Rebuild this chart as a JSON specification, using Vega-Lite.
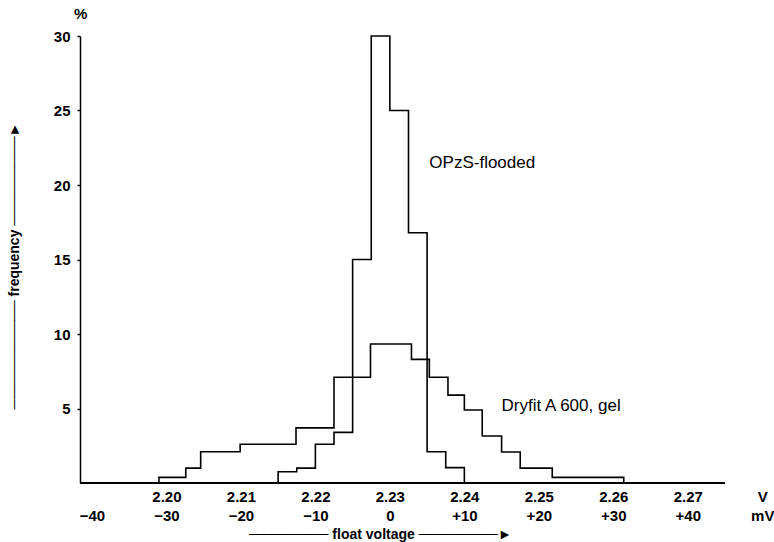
{
  "$schema": "https://vega.github.io/schema/vega-lite/v6.json",
  "width": 689,
  "height": 447,
  "autosize": {"type": "none"},
  "padding": {"left": 80, "top": 36, "right": 5, "bottom": 59},
  "background": "white",
  "config": {"view": {"stroke": null}, "font": "Liberation Sans"},
  "title": {"text": "%", "anchor": "start", "frame": "group", "fontSize": 15, "fontWeight": "bold", "color": "black", "dx": -6, "offset": 7},
  "datasets": {
    "hist": [
      {"series": "OPzS-flooded", "n": 0, "mV": -15, "pct": 0},
      {"series": "OPzS-flooded", "n": 1, "mV": -15, "pct": 0.76},
      {"series": "OPzS-flooded", "n": 2, "mV": -12.5, "pct": 1.0},
      {"series": "OPzS-flooded", "n": 3, "mV": -10, "pct": 2.6},
      {"series": "OPzS-flooded", "n": 4, "mV": -7.5, "pct": 3.4},
      {"series": "OPzS-flooded", "n": 5, "mV": -5, "pct": 15.0},
      {"series": "OPzS-flooded", "n": 6, "mV": -2.5, "pct": 30},
      {"series": "OPzS-flooded", "n": 7, "mV": 0, "pct": 25},
      {"series": "OPzS-flooded", "n": 8, "mV": 2.5, "pct": 16.8},
      {"series": "OPzS-flooded", "n": 9, "mV": 5, "pct": 2.1},
      {"series": "OPzS-flooded", "n": 10, "mV": 7.5, "pct": 1.03},
      {"series": "OPzS-flooded", "n": 11, "mV": 10, "pct": 0},
      {"series": "Dryfit A 600, gel", "n": 0, "mV": -31, "pct": 0},
      {"series": "Dryfit A 600, gel", "n": 1, "mV": -31, "pct": 0.38},
      {"series": "Dryfit A 600, gel", "n": 2, "mV": -27.4, "pct": 1.0},
      {"series": "Dryfit A 600, gel", "n": 3, "mV": -25.4, "pct": 2.1},
      {"series": "Dryfit A 600, gel", "n": 4, "mV": -20.1, "pct": 2.6},
      {"series": "Dryfit A 600, gel", "n": 5, "mV": -12.6, "pct": 3.7},
      {"series": "Dryfit A 600, gel", "n": 6, "mV": -7.5, "pct": 7.1},
      {"series": "Dryfit A 600, gel", "n": 7, "mV": -2.6, "pct": 9.33},
      {"series": "Dryfit A 600, gel", "n": 8, "mV": 2.9, "pct": 8.3},
      {"series": "Dryfit A 600, gel", "n": 9, "mV": 5.3, "pct": 7.1},
      {"series": "Dryfit A 600, gel", "n": 10, "mV": 7.8, "pct": 5.9},
      {"series": "Dryfit A 600, gel", "n": 11, "mV": 10, "pct": 4.9},
      {"series": "Dryfit A 600, gel", "n": 12, "mV": 12.4, "pct": 3.15},
      {"series": "Dryfit A 600, gel", "n": 13, "mV": 15, "pct": 2.08},
      {"series": "Dryfit A 600, gel", "n": 14, "mV": 17.5, "pct": 1.0},
      {"series": "Dryfit A 600, gel", "n": 15, "mV": 21.8, "pct": 0.38},
      {"series": "Dryfit A 600, gel", "n": 16, "mV": 31.4, "pct": 0}
    ],
    "labels": [
      {"label": "OPzS-flooded", "mV": 5.3, "pct": 21.5},
      {"label": "Dryfit A 600, gel", "mV": 15.0, "pct": 5.2}
    ],
    "baseline": [
      {"from": -41.6, "to": 45, "level": 0}
    ]
  },
  "encoding": {
    "x": {
      "field": "mV", "type": "quantitative",
      "scale": {"domain": [-41.6, 50.9], "nice": false, "zero": false},
      "axis": {
        "values": [-40, -30, -20, -10, 0, 10, 20, 30, 40, 50],
        "labelExpr": "datum.value == 50 ? ['V', 'mV'] : datum.value == -40 ? [' ', '\u221240'] : [format(2.23 + datum.value / 1000, '.2f'), datum.value > 0 ? '+' + datum.value : datum.value == 0 ? '0' : '\u2212' + abs(datum.value)]",
        "domain": false, "ticks": false, "grid": false,
        "labelFont": "Liberation Sans", "labelFontWeight": "bold", "labelFontSize": 15, "labelColor": "black",
        "labelLineHeight": 19, "labelPadding": 6, "labelFlush": false, "labelOverlap": false,
        "title": "\u2500\u2500\u2500\u2500\u2500\u2500\u2500\u2500 float voltage \u2500\u2500\u2500\u2500\u2500\u2500\u2500\u2500\u25ba",
        "titleX": 300, "titleY": 51, "titleBaseline": "middle", "titleAlign": "center",
        "titleFont": "Liberation Sans", "titleFontSize": 14, "titleFontWeight": "bold", "titleColor": "black"
      }
    },
    "y": {
      "field": "pct", "type": "quantitative",
      "scale": {"domain": [0, 30], "nice": false},
      "axis": {
        "values": [5, 10, 15, 20, 25, 30],
        "domainColor": "black", "domainWidth": 1.5,
        "ticks": true, "tickSize": 3, "tickColor": "black", "tickWidth": 1.5, "grid": false,
        "labelFont": "Liberation Sans", "labelFontWeight": "bold", "labelFontSize": 15, "labelColor": "black", "labelPadding": 7,
        "title": "\u2500\u2500\u2500\u2500\u2500\u2500\u2500\u2500\u2500\u2500\u2500 frequency \u2500\u2500\u2500\u2500\u2500\u2500\u2500\u2500\u2500\u25ba",
        "titleX": -66, "titleY": 229.5, "titleAngle": -90, "titleBaseline": "middle", "titleAlign": "center",
        "titleFont": "Liberation Sans", "titleFontSize": 14, "titleFontWeight": "bold", "titleColor": "black"
      }
    }
  },
  "layer": [
    {
      "data": {"name": "baseline"},
      "mark": {"type": "rule", "color": "black", "strokeWidth": 2},
      "encoding": {
        "x": {"field": "from", "type": "quantitative"},
        "x2": {"field": "to"},
        "y": {"field": "level", "type": "quantitative"}
      }
    },
    {
      "data": {"name": "hist"},
      "mark": {"type": "line", "interpolate": "step-after", "color": "black", "strokeWidth": 1.6},
      "encoding": {
        "detail": {"field": "series", "type": "nominal"},
        "order": {"field": "n", "type": "quantitative"}
      }
    },
    {
      "data": {"name": "labels"},
      "mark": {"type": "text", "align": "left", "baseline": "middle", "fontSize": 17, "font": "Liberation Sans", "color": "black"},
      "encoding": {
        "text": {"field": "label", "type": "nominal"}
      }
    }
  ]
}
